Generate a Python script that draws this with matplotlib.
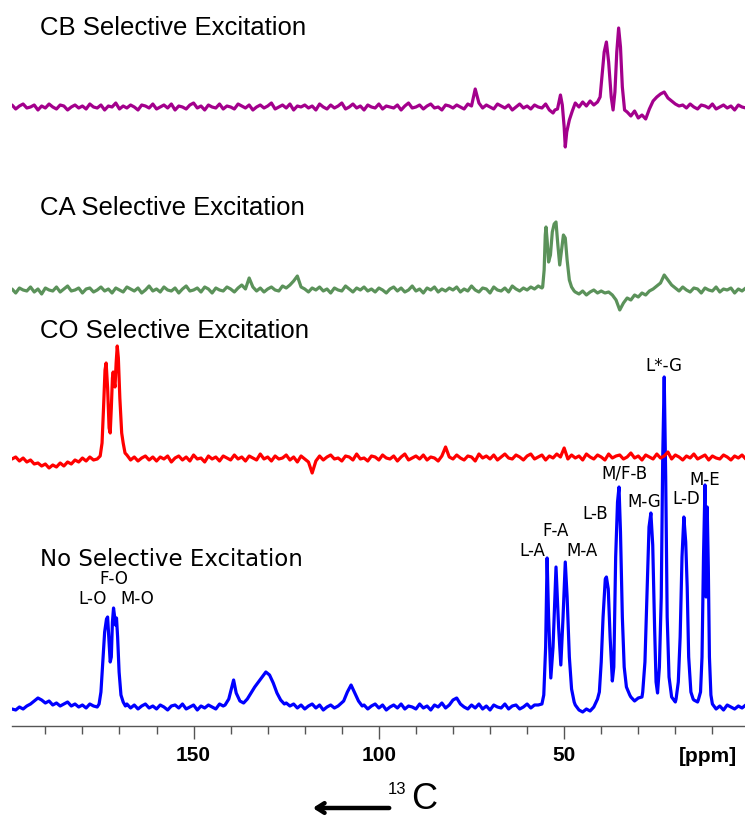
import numpy as np
import matplotlib
matplotlib.use('Agg')
import matplotlib.pyplot as plt

W, H = 745, 818

# ------------------------------------------------------------------
# DATA  (ppm, intensity in px above each trace's own baseline)
# ------------------------------------------------------------------
grid_ppm = list(range(200, -1, -1))  # baseline samples every 1 ppm (201 points)

blue_base = [
    -4, -2, -3, 0, -2, 1, 3, 6, 9, 7, 4, 6, 2, 4, 1, 3, 5, 1, 3, 0,          # 200-181
    2, -1, 3, 1, 0, 0, 0, 0, 0, 0, 0, 0, 3, -1, 2, -2, 1, 3, -1, 1,          # 180-161
    -2, 2, 0, -3, 1, 2, -1, 3, -2, 0, 2, -3, 1, -1, 2, 0, -2, 3, 1, -1,      # 160-141
    0, 0, 0, 0, 0, 0, 0, 0, 0, 0, 0, 0, 0, 0, 0, 4, 1, 3, -1, 2,             # 140-121
    -2, 1, 3, -1, 2, -3, 0, 2, -1, 0, 0, 0, 0, 0, 0, 0, 2, -2, 1, 3,         # 120-101
    -1, 2, -3, 0, 2, -1, 3, -2, 1, 0, -2, 3, -1, 1, -3, 2, 0, 4, -1, 2,      # 100-81
    7, 9, 3, 0, -2, 2, -1, 3, -2, 1, -3, 2, 0, -1, 3, -2, 1, 2, -2, 0,       # 80-61
    3, -1, 2, 2, 0, 0, 0, 0, 0, 0, 0, 0, 0, 2, -3, -5, -2, -4, 0, 0,         # 60-41
    0, 0, 0, 0, 0, 0, 0, 0, 10, 6, 9, 10, 0, 0, 0, 0, 0, 0, 0, 0,            # 40-21
    5, 0, 0, 0, 0, 7, 5, 0, 0, 0, 3, -2, 1, -3, 2, 0, -2, 1, -1, 2,          # 20-1
    -1]                                                                      # 0
red_base = [
    2, -1, 1, -3, 0, -4, -2, -6, -5, -8, -6, -10, -7, -9, -5, -8, -4, -6, -2, -4,
    0, -3, 1, -2, 0, 0, 0, 0, 0, 0, 0, 0, 3, -2, 1, -3, 0, 2, -2, 1,
    -3, 1, -1, 2, -4, 0, 2, -2, 1, -3, 3, -1, 0, -4, 2, -1, 1, -3, 2, 0,
    -2, 3, -1, 1, -3, 2, 0, -2, 4, -1, 1, -3, 2, -1, 0, 3, -2, 1, -4, 2,
    -1, -4, -15, -3, 2, -2, 1, 3, -1, 0, -3, 2, 1, -2, 4, -1, 0, -3, 2, 1,
    -2, 3, 0, -1, 2, -3, 1, 4, -2, 0, 2, -1, 3, -2, 1, 0, -3, 2, 11, 1,
    -1, 3, 0, -2, 2, 1, -3, 4, 0, 2, -1, 3, -2, 1, 4, 0, -1, 3, 1, -2,
    2, 4, -1, 1, 3, -2, 2, 0, 4, 1, 10, -1, 3, 0, 2, -2, 4, 1, -1, 3,
    1, -2, 4, 0, 2, 3, -1, 1, 5, 0, 2, -2, 3, 1, -1, 4, 0, 2, 6, -1,
    3, 1, -2, 2, 0, 4, -1, 1, 3, -2, 2, 0, -1, 3, 1, -2, 2, 0, 3, -1,
    1]
green_base = [
    -2, 1, -3, 2, 0, -1, 3, -2, 1, -4, 2, 0, -1, 3, -2, 1, 4, -1, 0, 2,
    -3, 1, 2, -2, 0, 3, -1, 1, -3, 2, 0, -2, 3, 1, -1, 2, -3, 0, 4, -1,
    1, -2, 3, 0, -1, 2, -3, 1, 4, -1, 0, 2, -2, 3, 1, -3, 2, 0, -1, 3,
    1, -2, 2, 5, 1, 12, 3, -1, 2, -2, 1, 3, 0, -1, 4, 2, 5, 9, 14, 3,
    1, -2, 2, 0, 3, -1, 1, -3, 2, 0, -1, 4, 1, -2, 2, 0, 3, -1, 1, -2,
    2, 0, -3, 1, 3, -1, 2, -2, 0, 4, -1, 1, -3, 2, 0, 3, -2, 1, -1, 2,
    0, 3, -2, 1, -1, 4, 0, -2, 2, 1, -3, 3, 0, -1, 2, -2, 4, 1, -1, 2,
    0, 3, 1, 4, 2, 0, 0, 0, 0, 0, 0, 0, 0, -2, -4, -1, -5, -2, 0, -3,
    -1, -3, -2, -5, -10, -20, -13, -8, -10, -5, -7, -3, -5, -1, 1, 4, 7, 15, 10, 5,
    2, -1, 3, 0, -2, 2, 1, -3, 2, 0, -1, 3, -2, 1, 0, 2, -3, 1, -1, 2,
    0]
purple_base = [
    -1, 2, -2, 1, 3, -1, 0, 2, -3, 1, -1, 3, 0, -2, 2, 1, -3, 0, 2, -1,
    1, -2, 3, 0, -1, 2, -3, 1, 0, 4, -2, 1, -1, 2, 0, -3, 2, 1, -1, 3,
    -2, 0, 2, -1, 3, -3, 1, 0, -2, 2, 4, -1, 1, -3, 2, 0, -1, 3, -2, 1,
    0, -2, 3, 1, -1, 2, -3, 0, 2, -1, 1, 4, -2, 0, 2, -1, 3, -3, 1, 0,
    2, -1, 1, -3, 3, 0, -2, 2, -1, 1, 4, -2, 0, 3, -1, 1, -3, 2, 0, -1,
    3, -2, 1, 0, -1, 2, -3, 1, 4, -1, 0, 2, -2, 1, 3, -1, 0, -3, 2, 1,
    -1, 2, 0, -2, 3, 1, 18, 4, -1, 2, 0, -2, 3, 1, -1, 2, -3, 0, 3, -1,
    1, -2, 2, 0, -1, 3, -3, -6, 0, 0, 0, 0, 0, 0, 0, 0, 0, 0, 0, 0,
    0, 0, 0, 0, 0, 0, 0, 0, 0, 0, 0, 0, 0, 0, 0, 0, 0, 0, 0, 0,
    0, 0, 2, -1, 3, 0, -2, 2, 1, -1, 3, -2, 0, 2, -1, 1, -3, 2, 0, -1,
    1]

# --- No selective excitation (blue) peak regions ---
blue_co_ppm = [175.5, 175.0, 174.5, 174.0, 173.5, 173.2, 172.9, 172.5, 172.2, 171.9,
               171.6, 171.3, 171.1, 170.8, 170.5, 170.1, 169.6, 169.0, 168.4]
blue_co_int = [3, 15, 45, 75, 88, 90, 70, 45, 50, 85, 99, 90, 82, 89, 70, 35, 12, 5, 1]
blue_aro_ppm = [141.5, 140.5, 139.8, 139.2, 138.5, 137.5, 136.5, 135.5, 134.5, 133.5,
                132.5, 131.5, 130.5, 129.5, 128.5, 127.5, 126.5, 125.5]
blue_aro_int = [2, 8, 18, 27, 14, 6, 4, 8, 14, 20, 25, 30, 35, 32, 24, 14, 7, 3]
blue_sb_ppm = [111.0, 109.5, 108.5, 107.5, 106.5, 105.5, 104.5]
blue_sb_int = [1, 6, 15, 22, 14, 6, 1]
blue_a_ppm = [56.0, 55.5, 55.0, 54.6, 54.2, 53.6, 53.0, 52.2, 51.5, 50.9, 50.3, 49.7,
              49.2, 48.6, 48.0, 47.3]
blue_a_int = [3, 12, 60, 149, 90, 29, 60, 140, 80, 42, 90, 145, 110, 50, 18, 5]
blue_b_ppm = [41.0, 40.5, 40.0, 39.5, 38.9, 38.6, 38.1, 37.6, 37.0, 36.6, 36.1, 35.6,
              35.2, 34.8, 34.3, 33.8, 33.2, 32.3]
blue_b_int = [8, 15, 45, 90, 128, 130, 118, 70, 26, 40, 150, 205, 220, 175, 90, 40, 20, 12]
blue_g_ppm = [28.8, 28.2, 27.6, 27.1, 26.6, 26.1, 25.6, 25.2, 24.8, 24.3, 23.8, 23.4,
              23.0, 22.6, 22.2, 21.7, 21.0]
blue_g_int = [15, 45, 120, 180, 194, 162, 80, 25, 14, 40, 110, 250, 330, 230, 90, 30, 10]
blue_d_ppm = [19.8, 19.2, 18.7, 18.2, 17.7, 17.2, 16.8, 16.4, 15.8, 15.2]
blue_d_int = [8, 25, 70, 150, 190, 165, 120, 50, 15, 8]
blue_e_ppm = [13.8, 13.2, 12.8, 12.4, 12.0, 11.7, 11.4, 11.1, 10.8, 10.4]
blue_e_int = [7, 15, 50, 150, 222, 110, 200, 140, 50, 12]

# --- CO selective (red) ---
red_co_ppm = [176.0, 175.2, 174.7, 174.3, 173.9, 173.6, 173.2, 172.8, 172.5, 172.2,
              171.9, 171.7, 171.4, 171.2, 170.9, 170.6, 170.3, 169.9, 169.4, 169.0, 168.5]
red_co_int = [-1, 2, 15, 50, 88, 95, 70, 30, 25, 50, 80, 86, 75, 71, 95, 112, 100, 60, 25, 15, 5]

# --- CA selective (green) ---
green_ca_ppm = [55.8, 55.4, 55.1, 54.9, 54.6, 54.2, 53.7, 53.2, 52.7, 52.2, 51.7, 51.2,
                50.7, 50.2, 49.7, 49.2, 48.6, 48.0, 47.3]
green_ca_int = [3, 20, 55, 63, 50, 28, 35, 58, 66, 68, 45, 25, 40, 55, 52, 30, 10, 3, -1]

# --- CB selective (purple) ---
purple_cb_ppm = [52.5, 51.8, 51.0, 50.5, 50.0, 49.7, 49.3, 48.6, 47.8, 47.0, 46.0, 45.0,
                 44.0, 43.0, 42.0, 41.0, 40.3, 39.7, 39.2, 38.6, 38.0, 37.3, 36.8, 36.3,
                 35.8, 35.3, 34.8, 34.3, 33.7, 33.0, 32.0, 31.0, 30.0, 29.0, 28.0, 27.0,
                 26.0, 25.0, 24.0, 23.0, 22.0, 21.0, 20.0, 19.0]
purple_cb_int = [-3, -2, 12, 2, -20, -40, -25, -13, -4, 4, 0, 5,
                 1, 6, 2, 5, 10, 35, 55, 65, 45, 10, -3, 15,
                 55, 79, 60, 20, -3, -5, -9, -4, -11, -8, -12, -2,
                 6, 10, 13, 15, 9, 6, 3, 1]

peak_labels = ['L-O', 'F-O', 'M-O', 'L-A', 'F-A', 'M-A', 'L-B', 'M/F-B', 'M-G', 'L*-G', 'L-D', 'M-E']
label_ppm = [177.2, 171.6, 165.1, 58.6, 52.4, 45.1, 41.6, 33.6, 28.4, 23.0, 17.1, 12.0]
label_y = [127, 147.5, 127, 175, 195, 175, 212, 252, 224, 360, 227, 246]

titles = ['CB Selective Excitation', 'CA Selective Excitation',
          'CO Selective Excitation', 'No Selective Excitation']

major_ticks = [150, 100, 50]
minor_ticks = [190, 180, 170, 160, 140, 130, 120, 110, 90, 80, 70, 60, 40, 30, 20, 10]

# ------------------------------------------------------------------
def build(base, segments):
    px, py = [], []
    for p, v in zip(grid_ppm, base):
        if any(min(s[0]) <= p <= max(s[0]) for s in segments):
            continue
        px.append(p)
        py.append(v)
    for sp, si in segments:
        px += list(sp)
        py += list(si)
    px = np.array(px, float)
    py = np.array(py, float)
    o = np.argsort(-px)
    return px[o], py[o]


fig = plt.figure(figsize=(W / 100, H / 100), dpi=100)
spine_row = 726
ax = fig.add_axes([12 / W, (H - spine_row) / H, (W - 12) / W, spine_row / H])
ax.set_xlim(199, 1.2)
ax.set_ylim(0, spine_row)

traces = [
    (blue_base, [(blue_co_ppm, blue_co_int), (blue_aro_ppm, blue_aro_int),
                 (blue_sb_ppm, blue_sb_int), (blue_a_ppm, blue_a_int),
                 (blue_b_ppm, blue_b_int), (blue_g_ppm, blue_g_int),
                 (blue_d_ppm, blue_d_int), (blue_e_ppm, blue_e_int)], '#0000ff', 707),
    (red_base, [(red_co_ppm, red_co_int)], '#ff0000', 458),
    (green_base, [(green_ca_ppm, green_ca_int)], '#5b925a', 290),
    (purple_base, [(purple_cb_ppm, purple_cb_int)], '#a3008c', 107),
]
for base, segs, col, row in traces:
    x, y = build(base, segs)
    ax.plot(x, (spine_row - row) + y, color=col, lw=2.3, solid_joinstyle='round')

for lab, lp, ly in zip(peak_labels, label_ppm, label_y):
    ax.text(lp, ly, lab, ha='center', va='center', fontsize=12,
            family='DejaVu Sans', color='black')

for s in ['top', 'left', 'right']:
    ax.spines[s].set_visible(False)
ax.spines['bottom'].set_color('#555555')
ax.spines['bottom'].set_linewidth(1.0)
ax.set_yticks([])
ax.set_xticks(major_ticks)
ax.set_xticklabels([str(t) for t in major_ticks])
ax.set_xticks(minor_ticks, minor=True)
for lbl in ax.get_xticklabels():
    lbl.set_fontweight('bold')
    lbl.set_fontsize(15)
    lbl.set_family('Liberation Sans')
ax.tick_params(axis='x', which='major', length=9.5, width=1.0, color='#555555', pad=5)
ax.tick_params(axis='x', which='minor', length=5.8, width=1.0, color='#555555')
ax.patch.set_visible(False)

# titles
title_rows = [35, 215, 338, 566]
for t, r in zip(titles, title_rows):
    fam = 'DejaVu Sans' if t.startswith('No') else 'Liberation Sans'
    size = 16.5 if t.startswith('No') else 18.5
    fig.text(40 / W, 1 - r / H, t, ha='left', va='baseline', fontsize=size, family=fam)

fig.text(708 / W, 1 - 756 / H, '[ppm]', ha='center', va='center', fontsize=15,
         fontweight='bold', family='Liberation Sans')

# 13C arrow
ax.annotate('', xy=(310 / W, 1 - 808 / H), xytext=(392 / W, 1 - 808 / H),
            xycoords='figure fraction', textcoords='figure fraction',
            arrowprops=dict(arrowstyle='->,head_length=0.55,head_width=0.35', lw=3.2,
                            color='black'), annotation_clip=False)
fig.text(397 / W, 1 - 789 / H, '13', ha='center', va='center', fontsize=12,
         family=['Liberation Sans Narrow', 'Liberation Sans'])
fig.text(411 / W, 1 - 817 / H, 'C', ha='left', va='bottom', fontsize=26,
         family=['Liberation Sans Narrow', 'Liberation Sans'])

fig.savefig('out.png', dpi=100)
